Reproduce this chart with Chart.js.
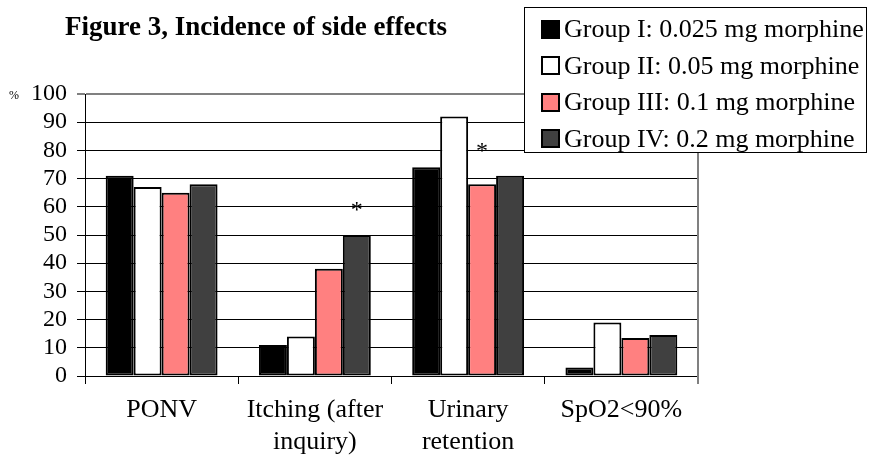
<!DOCTYPE html>
<html>
<head>
<meta charset="utf-8">
<script src="https://cdn.jsdelivr.net/npm/chart.js@4/dist/chart.umd.min.js"></script>
<style>
  html, body { margin: 0; padding: 0; background: #fff; }
  #wrap { position: relative; width: 869px; height: 460px; font-family: 'Liberation Serif', 'Times New Roman', serif; }
  #chart { position: absolute; left: 0; top: 0; }
  .title { position: absolute; left: 65px; top: 11px; font-size: 27px; font-weight: bold; white-space: nowrap; }
  .pct { position: absolute; left: 9px; top: 88px; font-size: 12px; }
  .legend { position: absolute; left: 524px; top: 7px; width: 343px; height: 146px; border: 1px solid #000; background: #fff; box-sizing: border-box; }
  .lg-item { position: absolute; left: 16px; height: 30px; display: flex; align-items: center; font-size: 26px; white-space: nowrap; }
  .lg-sw { width: 15px; height: 15px; border: 2px solid #000; margin-right: 4px; flex: none; }
</style>
</head>
<body>
<div id="wrap">
  <canvas id="chart" width="869" height="460"></canvas>
  <div class="title">Figure 3, Incidence of side effects</div>
  <div class="pct">%</div>
  <div class="legend" id="legend"></div>
</div>
<script>
const CATEGORIES = [['PONV'], ['Itching (after', 'inquiry)'], ['Urinary', 'retention'], ['SpO2<90%']];
const GROUP_NAMES = ['Group I: 0.025 mg morphine', 'Group II: 0.05 mg morphine', 'Group III: 0.1 mg morphine', 'Group IV: 0.2 mg morphine'];
const GROUP_COLORS = ['#000000', '#ffffff', '#ff8080', '#404040'];
const GROUP_I = [71, 11, 74, 3];
const GROUP_II = [67, 14, 92, 19];
const GROUP_III = [65, 38, 68, 13.5];
const GROUP_IV = [68, 50, 71, 14.5];
// significance marks: [category index, group index]
const STARS = [[1, 3], [2, 2]];

const FONT = "'Liberation Serif', 'Times New Roman', serif";

const starPlugin = {
  id: 'stars',
  afterDatasetsDraw(chart) {
    const ctx = chart.ctx;
    ctx.save();
    ctx.fillStyle = '#000';
    ctx.font = '24px ' + FONT;
    ctx.textAlign = 'center';
    ctx.textBaseline = 'alphabetic';
    STARS.forEach(([c, g], i) => {
      const bar = chart.getDatasetMeta(g).data[c];
      const lift = i === 0 ? 18 : 26;
      ctx.fillText('*', bar.x, bar.y - lift);
    });
    ctx.restore();
  }
};

const framePlugin = {
  id: 'frame',
  afterDraw(chart) {
    const { ctx, chartArea: a } = chart;
    ctx.save();
    ctx.strokeStyle = '#808080';
    ctx.lineWidth = 2;
    ctx.beginPath();
    ctx.moveTo(a.right, a.top);
    ctx.lineTo(a.right, a.bottom + 8);
    ctx.stroke();
    ctx.restore();
  }
};

const datasets = [GROUP_I, GROUP_II, GROUP_III, GROUP_IV].map((d, i) => ({
  label: GROUP_NAMES[i],
  data: d,
  backgroundColor: GROUP_COLORS[i],
  borderColor: '#000',
  borderWidth: 2,
  borderSkipped: false,
  barPercentage: 1,
  categoryPercentage: 0.73,
}));

new Chart(document.getElementById('chart'), {
  type: 'bar',
  data: { labels: CATEGORIES, datasets },
  options: {
    responsive: false,
    animation: false,
    layout: { padding: { top: 94, right: 171, bottom: 0, left: 0 } },
    plugins: { legend: { display: false }, tooltip: { enabled: false } },
    scales: {
      x: {
        grid: { offset: true, drawOnChartArea: false, drawTicks: true, tickLength: 8, color: '#000' },
        border: { color: '#000', width: 1 },
        ticks: { color: '#000', font: { family: FONT, size: 26 }, padding: 11, maxRotation: 0, autoSkip: false },
        afterFit(s) { s.height = 84; }
      },
      y: {
        min: 0, max: 100,
        grid: { color: ctx => ctx.tick && ctx.tick.value === 100 ? '#808080' : '#000', lineWidth: ctx => ctx.tick && ctx.tick.value === 100 ? 2 : 1, tickLength: 8 },
        border: { color: '#000', width: 1 },
        ticks: { stepSize: 10, autoSkip: false, color: '#000', font: { family: FONT, size: 24 }, padding: 10 },
        afterFit(s) { s.width = 85; }
      }
    }
  },
  plugins: [starPlugin, framePlugin]
});

const legend = document.getElementById('legend');
GROUP_NAMES.forEach((name, i) => {
  const item = document.createElement('div');
  item.className = 'lg-item';
  item.style.top = (6 + i * 36.5) + 'px';
  const sw = document.createElement('span');
  sw.className = 'lg-sw';
  sw.style.background = GROUP_COLORS[i];
  item.appendChild(sw);
  item.appendChild(document.createTextNode(name));
  legend.appendChild(item);
});
</script>
</body>
</html>
